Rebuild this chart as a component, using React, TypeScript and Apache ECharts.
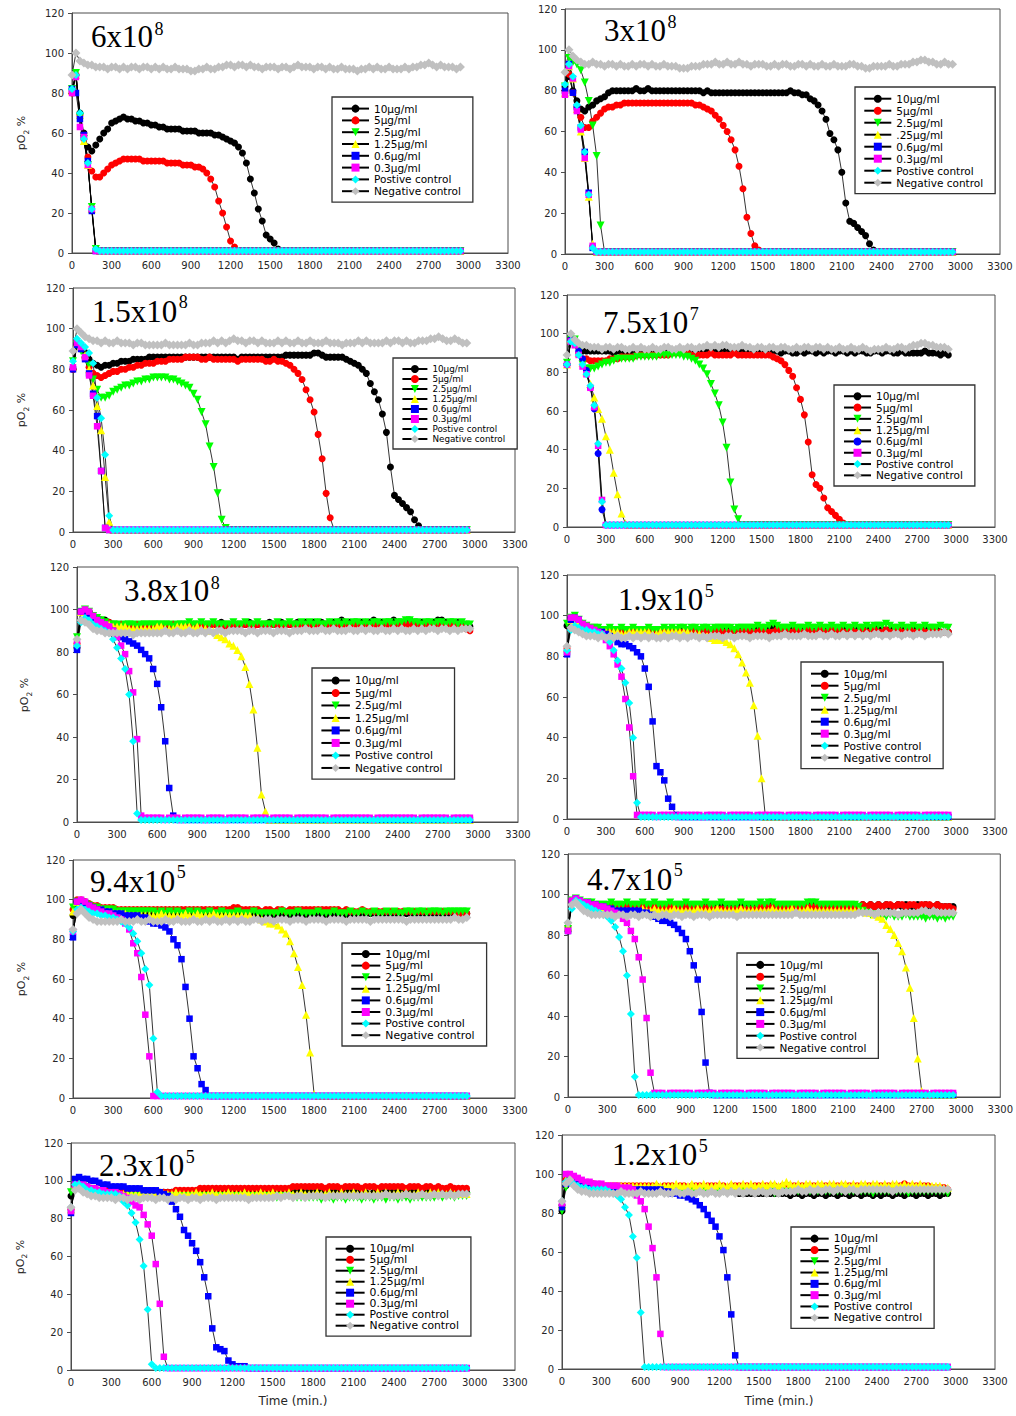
import React, { useEffect, useRef } from "react";
import * as echarts from "echarts";

// Sampling times (min.)
const TIME = [
  0, 30, 60, 90, 120, 150, 180, 210, 240, 270,
  300, 330, 360, 390, 420, 450, 480, 510, 540, 570,
  600, 630, 660, 690, 720, 750, 780, 810, 840, 870,
  900, 930, 960, 990, 1020, 1050, 1080, 1110, 1140, 1170,
  1200, 1230, 1260, 1290, 1320, 1350, 1380, 1410, 1440, 1470,
  1500, 1530, 1560, 1590, 1620, 1650, 1680, 1710, 1740, 1770,
  1800, 1830, 1860, 1890, 1920, 1950, 1980, 2010, 2040, 2070,
  2100, 2130, 2160, 2190, 2220, 2250, 2280, 2310, 2340, 2370,
  2400, 2430, 2460, 2490, 2520, 2550, 2580, 2610, 2640, 2670,
  2700, 2730, 2760, 2790, 2820, 2850, 2880, 2910, 2940,
];

const X_TICKS = { min: 0, max: 3300, step: 300 };
const Y_TICKS = { min: 0, max: 120, step: 20 };

const LABELS = ["10µg/ml", "5µg/ml", "2.5µg/ml", "1.25µg/ml", "0.6µg/ml", "0.3µg/ml", "Postive control", "Negative control"];
const LABELS_B = ["10µg/ml", "5µg/ml", "2.5µg/ml", ".25µg/ml", "0.6µg/ml", "0.3µg/ml", "Postive control", "Negative control"];
const LABELS_D = ["10µg/ml", "5µg/ml", "2.5µg/ml", "1.25µg/ml", "0.6µg/ml ", "0.3µg/ml", "Postive control", "Negative control"];

// ---------- 6x10^8 ----------
const P1_10 = [
  82, 89, 70, 60, 53, 51, 54, 57, 60, 62,
  65, 66, 67, 68, 67, 67, 66, 66, 65, 65,
  64, 64, 63, 63, 62, 62, 62, 62, 61, 61,
  61, 61, 60, 60, 60, 60, 59, 59, 58, 57,
  56, 55, 53, 50, 45, 37, 30, 22, 16, 9,
  7, 5, 2, 1, 1, 1, 1, 1, 1, 1,
  1, 1, 1, 1, 1, 1, 1, 1, 1, 1,
  1, 1, 1, 1, 1, 1, 1, 1, 1, 1,
  1, 1, 1, 1, 1, 1, 1, 1, 1, 1,
  1, 1, 1, 1, 1, 1, 1, 1, 1,
];
const P1_5 = [
  80, 89, 69, 57, 48, 41, 38, 38, 40, 42,
  44, 45, 46, 47, 47, 47, 47, 47, 46, 46,
  46, 46, 46, 46, 45, 45, 45, 45, 44, 44,
  44, 43, 43, 42, 40, 37, 33, 26, 20, 13,
  6, 3, 1, 1, 1, 1, 1, 1, 1, 1,
  1, 1, 1, 1, 1, 1, 1, 1, 1, 1,
  1, 1, 1, 1, 1, 1, 1, 1, 1, 1,
  1, 1, 1, 1, 1, 1, 1, 1, 1, 1,
  1, 1, 1, 1, 1, 1, 1, 1, 1, 1,
  1, 1, 1, 1, 1, 1, 1, 1, 1,
];
const P1_25 = [
  82, 90, 68, 57, 44, 23, 2, 1, 1, 1,
  1, 1, 1, 1, 1, 1, 1, 1, 1, 1,
  1, 1, 1, 1, 1, 1, 1, 1, 1, 1,
  1, 1, 1, 1, 1, 1, 1, 1, 1, 1,
  1, 1, 1, 1, 1, 1, 1, 1, 1, 1,
  1, 1, 1, 1, 1, 1, 1, 1, 1, 1,
  1, 1, 1, 1, 1, 1, 1, 1, 1, 1,
  1, 1, 1, 1, 1, 1, 1, 1, 1, 1,
  1, 1, 1, 1, 1, 1, 1, 1, 1, 1,
  1, 1, 1, 1, 1, 1, 1, 1, 1,
];
const P1_125 = [
  81, 89, 69, 56, 44, 22, 2, 1, 1, 1,
  1, 1, 1, 1, 1, 1, 1, 1, 1, 1,
  1, 1, 1, 1, 1, 1, 1, 1, 1, 1,
  1, 1, 1, 1, 1, 1, 1, 1, 1, 1,
  1, 1, 1, 1, 1, 1, 1, 1, 1, 1,
  1, 1, 1, 1, 1, 1, 1, 1, 1, 1,
  1, 1, 1, 1, 1, 1, 1, 1, 1, 1,
  1, 1, 1, 1, 1, 1, 1, 1, 1, 1,
  1, 1, 1, 1, 1, 1, 1, 1, 1, 1,
  1, 1, 1, 1, 1, 1, 1, 1, 1,
];
const P1_06 = [
  82, 80, 67, 59, 46, 21, 1, 1, 1, 1,
  1, 1, 1, 1, 1, 1, 1, 1, 1, 1,
  1, 1, 1, 1, 1, 1, 1, 1, 1, 1,
  1, 1, 1, 1, 1, 1, 1, 1, 1, 1,
  1, 1, 1, 1, 1, 1, 1, 1, 1, 1,
  1, 1, 1, 1, 1, 1, 1, 1, 1, 1,
  1, 1, 1, 1, 1, 1, 1, 1, 1, 1,
  1, 1, 1, 1, 1, 1, 1, 1, 1, 1,
  1, 1, 1, 1, 1, 1, 1, 1, 1, 1,
  1, 1, 1, 1, 1, 1, 1, 1, 1,
];
const P1_03 = [
  80, 88, 63, 58, 44, 22, 1, 1, 1, 1,
  1, 1, 1, 1, 1, 1, 1, 1, 1, 1,
  1, 1, 1, 1, 1, 1, 1, 1, 1, 1,
  1, 1, 1, 1, 1, 1, 1, 1, 1, 1,
  1, 1, 1, 1, 1, 1, 1, 1, 1, 1,
  1, 1, 1, 1, 1, 1, 1, 1, 1, 1,
  1, 1, 1, 1, 1, 1, 1, 1, 1, 1,
  1, 1, 1, 1, 1, 1, 1, 1, 1, 1,
  1, 1, 1, 1, 1, 1, 1, 1, 1, 1,
  1, 1, 1, 1, 1, 1, 1, 1, 1,
];
const P1_POS = [
  82, 89, 70, 57, 45, 22, 2, 1, 1, 1,
  1, 1, 1, 1, 1, 1, 1, 1, 1, 1,
  1, 1, 1, 1, 1, 1, 1, 1, 1, 1,
  1, 1, 1, 1, 1, 1, 1, 1, 1, 1,
  1, 1, 1, 1, 1, 1, 1, 1, 1, 1,
  1, 1, 1, 1, 1, 1, 1, 1, 1, 1,
  1, 1, 1, 1, 1, 1, 1, 1, 1, 1,
  1, 1, 1, 1, 1, 1, 1, 1, 1, 1,
  1, 1, 1, 1, 1, 1, 1, 1, 1, 1,
  1, 1, 1, 1, 1, 1, 1, 1, 1,
];
const P1_NEG = [
  89, 100, 96, 95, 94, 94, 93, 93, 93, 92,
  93, 93, 92, 93, 92, 93, 93, 92, 93, 93,
  92, 93, 92, 93, 92, 92, 93, 92, 92, 92,
  91, 91, 92, 92, 93, 92, 92, 93, 93, 94,
  94, 93, 94, 94, 93, 94, 93, 93, 92, 93,
  93, 93, 92, 93, 93, 92, 93, 94, 93, 93,
  93, 92, 93, 93, 92, 93, 92, 92, 93, 92,
  92, 92, 91, 92, 92, 93, 92, 93, 92, 92,
  93, 92, 92, 92, 93, 92, 93, 93, 94, 94,
  95, 94, 93, 94, 93, 93, 93, 92, 93,
];

// ---------- 3x10^8 ----------
const P2_10 = [
  82, 87, 80, 75, 71, 70, 72, 73, 75, 76,
  77, 79, 80, 80, 80, 80, 80, 80, 81, 80,
  80, 81, 80, 80, 80, 80, 80, 80, 80, 80,
  80, 80, 80, 80, 80, 79, 80, 79, 79, 79,
  79, 79, 79, 79, 79, 79, 79, 79, 79, 79,
  79, 79, 79, 79, 79, 79, 79, 80, 79, 79,
  78, 78, 76, 75, 73, 70, 66, 59, 56, 51,
  40, 25, 16, 15, 13, 11, 9, 5, 2, 1,
  1, 1, 1, 1, 1, 1, 1, 1, 1, 1,
  1, 1, 1, 1, 1, 1, 1, 1, 1,
];
const P2_5 = [
  80, 88, 79, 72, 67, 62, 62, 65, 67, 69,
  71, 72, 72, 73, 73, 74, 74, 74, 74, 74,
  74, 74, 74, 74, 74, 74, 74, 74, 74, 74,
  74, 74, 74, 73, 73, 72, 71, 70, 68, 66,
  63, 60, 56, 51, 43, 32, 18, 10, 4, 2,
  1, 1, 1, 1, 1, 1, 1, 1, 1, 1,
  1, 1, 1, 1, 1, 1, 1, 1, 1, 1,
  1, 1, 1, 1, 1, 1, 1, 1, 1, 1,
  1, 1, 1, 1, 1, 1, 1, 1, 1, 1,
  1, 1, 1, 1, 1, 1, 1, 1, 1,
];
const P2_25 = [
  82, 96, 94, 93, 90, 84, 75, 63, 48, 14,
  1, 1, 1, 1, 1, 1, 1, 1, 1, 1,
  1, 1, 1, 1, 1, 1, 1, 1, 1, 1,
  1, 1, 1, 1, 1, 1, 1, 1, 1, 1,
  1, 1, 1, 1, 1, 1, 1, 1, 1, 1,
  1, 1, 1, 1, 1, 1, 1, 1, 1, 1,
  1, 1, 1, 1, 1, 1, 1, 1, 1, 1,
  1, 1, 1, 1, 1, 1, 1, 1, 1, 1,
  1, 1, 1, 1, 1, 1, 1, 1, 1, 1,
  1, 1, 1, 1, 1, 1, 1, 1, 1,
];
const P2_125 = [
  79, 92, 86, 71, 60, 47, 28, 5, 1, 1,
  1, 1, 1, 1, 1, 1, 1, 1, 1, 1,
  1, 1, 1, 1, 1, 1, 1, 1, 1, 1,
  1, 1, 1, 1, 1, 1, 1, 1, 1, 1,
  1, 1, 1, 1, 1, 1, 1, 1, 1, 1,
  1, 1, 1, 1, 1, 1, 1, 1, 1, 1,
  1, 1, 1, 1, 1, 1, 1, 1, 1, 1,
  1, 1, 1, 1, 1, 1, 1, 1, 1, 1,
  1, 1, 1, 1, 1, 1, 1, 1, 1, 1,
  1, 1, 1, 1, 1, 1, 1, 1, 1,
];
const P2_06 = [
  80, 93, 79, 72, 62, 50, 30, 3, 1, 1,
  1, 1, 1, 1, 1, 1, 1, 1, 1, 1,
  1, 1, 1, 1, 1, 1, 1, 1, 1, 1,
  1, 1, 1, 1, 1, 1, 1, 1, 1, 1,
  1, 1, 1, 1, 1, 1, 1, 1, 1, 1,
  1, 1, 1, 1, 1, 1, 1, 1, 1, 1,
  1, 1, 1, 1, 1, 1, 1, 1, 1, 1,
  1, 1, 1, 1, 1, 1, 1, 1, 1, 1,
  1, 1, 1, 1, 1, 1, 1, 1, 1, 1,
  1, 1, 1, 1, 1, 1, 1, 1, 1,
];
const P2_03 = [
  78, 92, 86, 70, 61, 47, 29, 4, 1, 1,
  1, 1, 1, 1, 1, 1, 1, 1, 1, 1,
  1, 1, 1, 1, 1, 1, 1, 1, 1, 1,
  1, 1, 1, 1, 1, 1, 1, 1, 1, 1,
  1, 1, 1, 1, 1, 1, 1, 1, 1, 1,
  1, 1, 1, 1, 1, 1, 1, 1, 1, 1,
  1, 1, 1, 1, 1, 1, 1, 1, 1, 1,
  1, 1, 1, 1, 1, 1, 1, 1, 1, 1,
  1, 1, 1, 1, 1, 1, 1, 1, 1, 1,
  1, 1, 1, 1, 1, 1, 1, 1, 1,
];
const P2_POS = [
  83, 93, 87, 73, 63, 50, 29, 3, 1, 1,
  1, 1, 1, 1, 1, 1, 1, 1, 1, 1,
  1, 1, 1, 1, 1, 1, 1, 1, 1, 1,
  1, 1, 1, 1, 1, 1, 1, 1, 1, 1,
  1, 1, 1, 1, 1, 1, 1, 1, 1, 1,
  1, 1, 1, 1, 1, 1, 1, 1, 1, 1,
  1, 1, 1, 1, 1, 1, 1, 1, 1, 1,
  1, 1, 1, 1, 1, 1, 1, 1, 1, 1,
  1, 1, 1, 1, 1, 1, 1, 1, 1, 1,
  1, 1, 1, 1, 1, 1, 1, 1, 1,
];
const P2_NEG = [
  89, 100, 97, 95, 94, 93, 93, 94, 93, 93,
  92, 93, 93, 92, 93, 92, 92, 93, 92, 93,
  93, 92, 93, 92, 92, 93, 92, 92, 92, 91,
  91, 91, 92, 92, 92, 93, 93, 93, 94, 93,
  93, 94, 93, 93, 94, 93, 93, 92, 93, 93,
  93, 92, 92, 93, 92, 93, 93, 92, 92, 93,
  93, 92, 93, 92, 92, 93, 92, 92, 93, 92,
  92, 92, 93, 93, 92, 92, 91, 91, 92, 92,
  92, 92, 93, 92, 92, 93, 93, 93, 94, 94,
  95, 95, 94, 94, 93, 93, 94, 93, 93,
];

// ---------- 1.5x10^8 ----------
const P3_10 = [
  80, 93, 91, 88, 85, 83, 82, 81, 82, 82,
  83, 83, 84, 84, 84, 85, 85, 85, 85, 86,
  86, 86, 86, 86, 86, 86, 86, 86, 86, 86,
  86, 86, 86, 86, 86, 86, 86, 86, 86, 86,
  86, 85, 86, 86, 86, 86, 86, 86, 86, 86,
  86, 86, 86, 87, 87, 87, 87, 87, 87, 87,
  88, 88, 87, 86, 86, 86, 86, 86, 85, 84,
  83, 82, 80, 78, 73, 69, 65, 58, 49, 32,
  18, 16, 14, 12, 10, 6, 3, 1, 1, 1,
  1, 1, 1, 1, 1, 1, 1, 1, 1,
];
const P3_5 = [
  80, 93, 90, 86, 81, 78, 77, 76, 77, 78,
  79, 79, 80, 80, 81, 81, 82, 82, 83, 83,
  83, 84, 84, 84, 85, 85, 85, 85, 86, 86,
  86, 86, 85, 85, 86, 85, 85, 85, 85, 85,
  85, 84, 85, 85, 85, 85, 85, 85, 84, 84,
  85, 84, 84, 83, 82, 80, 78, 75, 70, 65,
  59, 48, 36, 19, 7, 1, 1, 1, 1, 1,
  1, 1, 1, 1, 1, 1, 1, 1, 1, 1,
  1, 1, 1, 1, 1, 1, 1, 1, 1, 1,
  1, 1, 1, 1, 1, 1, 1, 1, 1,
];
const P3_25 = [
  84, 92, 89, 86, 82, 75, 70, 66, 66, 67,
  69, 70, 71, 72, 72, 73, 74, 74, 75, 75,
  76, 76, 76, 76, 75, 75, 74, 73, 72, 71,
  68, 65, 59, 53, 42, 32, 19, 6, 2, 1,
  1, 1, 1, 1, 1, 1, 1, 1, 1, 1,
  1, 1, 1, 1, 1, 1, 1, 1, 1, 1,
  1, 1, 1, 1, 1, 1, 1, 1, 1, 1,
  1, 1, 1, 1, 1, 1, 1, 1, 1, 1,
  1, 1, 1, 1, 1, 1, 1, 1, 1, 1,
  1, 1, 1, 1, 1, 1, 1, 1, 1,
];
const P3_125 = [
  81, 93, 91, 87, 80, 72, 62, 50, 27, 5,
  1, 1, 1, 1, 1, 1, 1, 1, 1, 1,
  1, 1, 1, 1, 1, 1, 1, 1, 1, 1,
  1, 1, 1, 1, 1, 1, 1, 1, 1, 1,
  1, 1, 1, 1, 1, 1, 1, 1, 1, 1,
  1, 1, 1, 1, 1, 1, 1, 1, 1, 1,
  1, 1, 1, 1, 1, 1, 1, 1, 1, 1,
  1, 1, 1, 1, 1, 1, 1, 1, 1, 1,
  1, 1, 1, 1, 1, 1, 1, 1, 1, 1,
  1, 1, 1, 1, 1, 1, 1, 1, 1,
];
const P3_06 = [
  80, 92, 90, 85, 78, 68, 57, 30, 2, 1,
  1, 1, 1, 1, 1, 1, 1, 1, 1, 1,
  1, 1, 1, 1, 1, 1, 1, 1, 1, 1,
  1, 1, 1, 1, 1, 1, 1, 1, 1, 1,
  1, 1, 1, 1, 1, 1, 1, 1, 1, 1,
  1, 1, 1, 1, 1, 1, 1, 1, 1, 1,
  1, 1, 1, 1, 1, 1, 1, 1, 1, 1,
  1, 1, 1, 1, 1, 1, 1, 1, 1, 1,
  1, 1, 1, 1, 1, 1, 1, 1, 1, 1,
  1, 1, 1, 1, 1, 1, 1, 1, 1,
];
const P3_03 = [
  81, 93, 91, 86, 77, 67, 52, 30, 2, 1,
  1, 1, 1, 1, 1, 1, 1, 1, 1, 1,
  1, 1, 1, 1, 1, 1, 1, 1, 1, 1,
  1, 1, 1, 1, 1, 1, 1, 1, 1, 1,
  1, 1, 1, 1, 1, 1, 1, 1, 1, 1,
  1, 1, 1, 1, 1, 1, 1, 1, 1, 1,
  1, 1, 1, 1, 1, 1, 1, 1, 1, 1,
  1, 1, 1, 1, 1, 1, 1, 1, 1, 1,
  1, 1, 1, 1, 1, 1, 1, 1, 1, 1,
  1, 1, 1, 1, 1, 1, 1, 1, 1,
];
const P3_POS = [
  84, 95, 93, 91, 88, 83, 66, 56, 38, 8,
  1, 1, 1, 1, 1, 1, 1, 1, 1, 1,
  1, 1, 1, 1, 1, 1, 1, 1, 1, 1,
  1, 1, 1, 1, 1, 1, 1, 1, 1, 1,
  1, 1, 1, 1, 1, 1, 1, 1, 1, 1,
  1, 1, 1, 1, 1, 1, 1, 1, 1, 1,
  1, 1, 1, 1, 1, 1, 1, 1, 1, 1,
  1, 1, 1, 1, 1, 1, 1, 1, 1, 1,
  1, 1, 1, 1, 1, 1, 1, 1, 1, 1,
  1, 1, 1, 1, 1, 1, 1, 1, 1,
];
const P3_NEG = [
  89, 100, 98, 96, 95, 94, 94, 93, 94, 93,
  93, 94, 93, 93, 93, 92, 93, 93, 92, 92,
  92, 92, 92, 93, 92, 92, 92, 92, 92, 93,
  92, 92, 93, 93, 93, 94, 93, 94, 93, 94,
  95, 94, 94, 93, 94, 94, 93, 94, 93, 93,
  93, 94, 93, 94, 93, 93, 94, 93, 93, 94,
  93, 93, 93, 94, 93, 93, 93, 92, 93, 93,
  93, 94, 93, 94, 93, 93, 93, 93, 94, 93,
  94, 94, 93, 94, 93, 93, 94, 94, 94, 95,
  95, 96, 95, 94, 94, 95, 94, 93, 93,
];

// ---------- 7.5x10^7 ----------
const P4_10 = [
  84, 97, 97, 93, 91, 91, 91, 91, 91, 91,
  91, 91, 90, 91, 91, 90, 91, 91, 90, 91,
  91, 90, 91, 91, 90, 91, 91, 90, 91, 91,
  91, 91, 91, 90, 91, 91, 91, 91, 91, 91,
  91, 91, 91, 91, 90, 91, 91, 90, 91, 91,
  90, 91, 90, 91, 91, 90, 91, 91, 90, 90,
  91, 90, 91, 91, 90, 91, 90, 91, 91, 90,
  91, 91, 90, 91, 90, 91, 91, 90, 90, 91,
  91, 90, 91, 91, 90, 90, 91, 90, 90, 90,
  90, 90, 91, 90, 90, 90, 89, 90, 89,
];
const P4_5 = [
  84, 97, 95, 90, 87, 87, 86, 86, 86, 86,
  86, 87, 87, 87, 88, 88, 88, 88, 89, 89,
  89, 89, 89, 89, 89, 89, 89, 90, 90, 90,
  90, 90, 89, 89, 89, 89, 89, 90, 89, 89,
  89, 89, 89, 90, 89, 89, 89, 89, 89, 89,
  89, 89, 89, 88, 87, 86, 84, 81, 78, 72,
  66, 58, 44, 27, 22, 20, 15, 10, 8, 6,
  4, 2, 1, 1, 1, 1, 1, 1, 1, 1,
  1, 1, 1, 1, 1, 1, 1, 1, 1, 1,
  1, 1, 1, 1, 1, 1, 1, 1, 1,
];
const P4_25 = [
  85, 97, 97, 91, 84, 82, 82, 82, 83, 84,
  85, 85, 86, 87, 87, 87, 87, 87, 88, 88,
  88, 88, 88, 88, 89, 89, 89, 89, 89, 89,
  88, 88, 87, 86, 84, 82, 79, 74, 69, 63,
  54, 41, 23, 9, 4, 1, 1, 1, 1, 1,
  1, 1, 1, 1, 1, 1, 1, 1, 1, 1,
  1, 1, 1, 1, 1, 1, 1, 1, 1, 1,
  1, 1, 1, 1, 1, 1, 1, 1, 1, 1,
  1, 1, 1, 1, 1, 1, 1, 1, 1, 1,
  1, 1, 1, 1, 1, 1, 1, 1, 1,
];
const P4_125 = [
  84, 97, 96, 90, 85, 80, 74, 67, 61, 56,
  47, 40, 28, 17, 7, 2, 1, 1, 1, 1,
  1, 1, 1, 1, 1, 1, 1, 1, 1, 1,
  1, 1, 1, 1, 1, 1, 1, 1, 1, 1,
  1, 1, 1, 1, 1, 1, 1, 1, 1, 1,
  1, 1, 1, 1, 1, 1, 1, 1, 1, 1,
  1, 1, 1, 1, 1, 1, 1, 1, 1, 1,
  1, 1, 1, 1, 1, 1, 1, 1, 1, 1,
  1, 1, 1, 1, 1, 1, 1, 1, 1, 1,
  1, 1, 1, 1, 1, 1, 1, 1, 1,
];
const P4_06 = [
  84, 97, 95, 91, 87, 81, 72, 61, 38, 9,
  1, 1, 1, 1, 1, 1, 1, 1, 1, 1,
  1, 1, 1, 1, 1, 1, 1, 1, 1, 1,
  1, 1, 1, 1, 1, 1, 1, 1, 1, 1,
  1, 1, 1, 1, 1, 1, 1, 1, 1, 1,
  1, 1, 1, 1, 1, 1, 1, 1, 1, 1,
  1, 1, 1, 1, 1, 1, 1, 1, 1, 1,
  1, 1, 1, 1, 1, 1, 1, 1, 1, 1,
  1, 1, 1, 1, 1, 1, 1, 1, 1, 1,
  1, 1, 1, 1, 1, 1, 1, 1, 1,
];
const P4_03 = [
  84, 96, 94, 89, 83, 79, 72, 62, 42, 14,
  1, 1, 1, 1, 1, 1, 1, 1, 1, 1,
  1, 1, 1, 1, 1, 1, 1, 1, 1, 1,
  1, 1, 1, 1, 1, 1, 1, 1, 1, 1,
  1, 1, 1, 1, 1, 1, 1, 1, 1, 1,
  1, 1, 1, 1, 1, 1, 1, 1, 1, 1,
  1, 1, 1, 1, 1, 1, 1, 1, 1, 1,
  1, 1, 1, 1, 1, 1, 1, 1, 1, 1,
  1, 1, 1, 1, 1, 1, 1, 1, 1, 1,
  1, 1, 1, 1, 1, 1, 1, 1, 1,
];
const P4_POS = [
  84, 96, 95, 89, 84, 79, 73, 63, 43, 13,
  1, 1, 1, 1, 1, 1, 1, 1, 1, 1,
  1, 1, 1, 1, 1, 1, 1, 1, 1, 1,
  1, 1, 1, 1, 1, 1, 1, 1, 1, 1,
  1, 1, 1, 1, 1, 1, 1, 1, 1, 1,
  1, 1, 1, 1, 1, 1, 1, 1, 1, 1,
  1, 1, 1, 1, 1, 1, 1, 1, 1, 1,
  1, 1, 1, 1, 1, 1, 1, 1, 1, 1,
  1, 1, 1, 1, 1, 1, 1, 1, 1, 1,
  1, 1, 1, 1, 1, 1, 1, 1, 1,
];
const P4_NEG = [
  89, 100, 97, 95, 94, 94, 93, 93, 93, 92,
  93, 93, 92, 93, 93, 92, 92, 93, 92, 93,
  92, 92, 93, 92, 92, 93, 93, 92, 92, 93,
  92, 93, 93, 92, 93, 93, 94, 93, 94, 93,
  94, 94, 93, 93, 93, 94, 93, 93, 92, 93,
  93, 92, 93, 93, 92, 93, 93, 92, 92, 93,
  92, 93, 93, 92, 93, 93, 92, 93, 92, 92,
  93, 92, 92, 93, 92, 92, 93, 92, 91, 92,
  92, 92, 93, 92, 92, 93, 93, 92, 93, 94,
  94, 95, 95, 94, 94, 93, 93, 93, 92,
];

// ---------- 3.8x10^8 ----------
const P5_10 = [
  82, 99, 100, 99, 97, 96, 95, 95, 94, 93,
  93, 93, 93, 93, 93, 92, 93, 93, 93, 92,
  93, 93, 92, 93, 93, 93, 93, 93, 93, 93,
  93, 93, 93, 93, 93, 93, 94, 93, 93, 93,
  93, 93, 93, 94, 93, 93, 93, 93, 94, 93,
  93, 94, 93, 93, 93, 94, 93, 94, 93, 94,
  94, 94, 93, 94, 94, 94, 95, 94, 94, 94,
  94, 94, 94, 94, 95, 94, 94, 94, 94, 95,
  94, 94, 94, 95, 94, 94, 94, 94, 94, 94,
  95, 95, 94, 94, 94, 94, 93, 93, 92,
];
const P5_5 = [
  84, 99, 100, 99, 97, 96, 95, 94, 94, 93,
  93, 93, 93, 93, 92, 93, 93, 92, 93, 93,
  93, 92, 93, 93, 93, 92, 93, 93, 93, 93,
  93, 93, 92, 93, 93, 93, 93, 92, 93, 93,
  93, 93, 93, 93, 92, 93, 93, 93, 93, 93,
  93, 92, 93, 93, 93, 93, 93, 93, 92, 93,
  93, 93, 93, 93, 93, 92, 93, 93, 93, 93,
  93, 93, 92, 93, 93, 93, 93, 93, 93, 92,
  93, 93, 93, 93, 92, 93, 93, 93, 93, 93,
  93, 92, 93, 93, 93, 92, 92, 91, 90,
];
const P5_25 = [
  87, 99, 100, 99, 97, 96, 95, 94, 93, 93,
  93, 92, 93, 93, 93, 92, 93, 93, 93, 93,
  93, 93, 93, 93, 92, 93, 93, 93, 94, 93,
  93, 94, 93, 93, 94, 93, 93, 93, 93, 94,
  93, 93, 94, 93, 93, 94, 93, 93, 93, 93,
  94, 93, 93, 94, 93, 93, 94, 93, 94, 93,
  94, 93, 93, 94, 93, 94, 93, 94, 93, 94,
  94, 93, 94, 93, 94, 94, 93, 94, 94, 93,
  94, 94, 95, 95, 94, 94, 93, 94, 94, 93,
  94, 94, 93, 94, 94, 93, 94, 93, 93,
];
const P5_125 = [
  85, 99, 99, 98, 96, 95, 94, 93, 93, 92,
  92, 92, 92, 91, 91, 91, 91, 91, 91, 91,
  92, 92, 91, 91, 91, 92, 92, 92, 92, 91,
  92, 91, 91, 90, 90, 88, 87, 86, 84, 83,
  81, 78, 73, 65, 53, 35, 13, 5, 1, 1,
  1, 1, 1, 1, 1, 1, 1, 1, 1, 1,
  1, 1, 1, 1, 1, 1, 1, 1, 1, 1,
  1, 1, 1, 1, 1, 1, 1, 1, 1, 1,
  1, 1, 1, 1, 1, 1, 1, 1, 1, 1,
  1, 1, 1, 1, 1, 1, 1, 1, 1,
];
const P5_06 = [
  81, 99, 99, 98, 96, 95, 94, 92, 91, 90,
  88, 87, 86, 85, 84, 83, 81, 79, 77, 72,
  65, 54, 38, 16, 3, 1, 1, 1, 1, 1,
  1, 1, 1, 1, 1, 1, 1, 1, 1, 1,
  1, 1, 1, 1, 1, 1, 1, 1, 1, 1,
  1, 1, 1, 1, 1, 1, 1, 1, 1, 1,
  1, 1, 1, 1, 1, 1, 1, 1, 1, 1,
  1, 1, 1, 1, 1, 1, 1, 1, 1, 1,
  1, 1, 1, 1, 1, 1, 1, 1, 1, 1,
  1, 1, 1, 1, 1, 1, 1, 1, 1,
];
const P5_03 = [
  84, 99, 100, 99, 97, 95, 94, 93, 92, 90,
  87, 83, 79, 71, 61, 39, 3, 2, 2, 2,
  2, 2, 1, 2, 2, 2, 1, 2, 2, 2,
  2, 2, 1, 2, 2, 2, 2, 1, 2, 2,
  2, 2, 2, 1, 2, 2, 2, 2, 1, 2,
  2, 2, 2, 2, 1, 2, 2, 2, 2, 2,
  2, 2, 2, 1, 2, 2, 2, 2, 2, 2,
  2, 2, 2, 2, 1, 2, 2, 2, 2, 2,
  2, 2, 2, 2, 2, 1, 2, 2, 2, 2,
  2, 2, 2, 1, 2, 2, 2, 2, 2,
];
const P5_POS = [
  83, 94, 96, 95, 93, 92, 91, 90, 89, 86,
  82, 77, 72, 60, 38, 4, 1, 1, 1, 1,
  1, 1, 1, 1, 1, 1, 1, 1, 1, 1,
  1, 1, 1, 1, 1, 1, 1, 1, 1, 1,
  1, 1, 1, 1, 1, 1, 1, 1, 1, 1,
  1, 1, 1, 1, 1, 1, 1, 1, 1, 1,
  1, 1, 1, 1, 1, 1, 1, 1, 1, 1,
  1, 1, 1, 1, 1, 1, 1, 1, 1, 1,
  1, 1, 1, 1, 1, 1, 1, 1, 1, 1,
  1, 1, 1, 1, 1, 1, 1, 1, 1,
];
const P5_NEG = [
  86, 95, 94, 93, 91, 90, 90, 89, 89, 89,
  89, 89, 89, 89, 88, 89, 89, 89, 89, 89,
  89, 89, 90, 89, 89, 90, 89, 89, 90, 89,
  89, 90, 89, 90, 89, 90, 90, 89, 90, 90,
  90, 90, 89, 90, 90, 89, 90, 90, 90, 89,
  90, 90, 90, 89, 90, 90, 90, 91, 90, 90,
  90, 91, 90, 90, 91, 90, 90, 90, 91, 90,
  90, 91, 90, 91, 90, 90, 91, 90, 90, 91,
  90, 91, 90, 90, 91, 90, 91, 90, 91, 91,
  90, 91, 91, 90, 91, 90, 91, 91, 91,
];

// ---------- 1.9x10^5 ----------
const P6_10 = [
  95, 99, 99, 98, 96, 95, 94, 93, 93, 93,
  93, 93, 93, 93, 92, 93, 93, 93, 93, 93,
  93, 93, 93, 92, 93, 93, 93, 93, 93, 93,
  93, 93, 93, 93, 93, 93, 94, 93, 93, 93,
  93, 93, 93, 93, 93, 94, 93, 93, 93, 93,
  93, 93, 93, 94, 93, 93, 93, 93, 93, 94,
  93, 93, 93, 93, 94, 93, 93, 93, 93, 93,
  93, 94, 93, 93, 93, 93, 93, 93, 93, 94,
  93, 93, 93, 93, 93, 94, 94, 93, 93, 93,
  93, 93, 93, 93, 93, 93, 92, 92, 92,
];
const P6_5 = [
  84, 98, 99, 98, 96, 95, 94, 93, 93, 92,
  92, 93, 92, 92, 93, 92, 92, 93, 92, 92,
  92, 93, 92, 92, 92, 93, 92, 92, 93, 92,
  92, 92, 93, 92, 92, 92, 93, 92, 92, 93,
  92, 92, 92, 93, 92, 92, 93, 92, 92, 92,
  93, 92, 92, 92, 93, 92, 93, 92, 92, 93,
  92, 92, 93, 92, 92, 93, 92, 92, 93, 92,
  93, 92, 92, 93, 92, 92, 93, 92, 92, 93,
  92, 92, 93, 92, 92, 93, 92, 92, 93, 92,
  92, 93, 92, 92, 93, 92, 92, 92, 92,
];
const P6_25 = [
  96, 99, 100, 98, 96, 95, 94, 94, 94, 93,
  93, 94, 93, 93, 94, 93, 93, 94, 93, 93,
  93, 94, 93, 93, 93, 94, 93, 94, 93, 94,
  94, 93, 94, 94, 93, 94, 94, 93, 94, 94,
  94, 94, 94, 93, 94, 94, 94, 94, 94, 95,
  94, 94, 95, 96, 95, 94, 94, 94, 95, 94,
  94, 94, 95, 94, 94, 95, 94, 94, 95, 94,
  94, 95, 94, 94, 95, 94, 94, 95, 94, 95,
  95, 95, 96, 95, 94, 94, 95, 94, 94, 95,
  94, 94, 95, 94, 94, 94, 95, 94, 94,
];
const P6_125 = [
  84, 98, 99, 97, 95, 94, 93, 92, 92, 92,
  92, 92, 92, 92, 91, 91, 92, 92, 92, 92,
  92, 92, 91, 91, 92, 92, 92, 92, 92, 92,
  92, 92, 91, 91, 91, 90, 90, 89, 88, 88,
  88, 87, 86, 84, 81, 77, 72, 67, 56, 41,
  20, 1, 1, 1, 1, 1, 1, 1, 1, 1,
  1, 1, 1, 1, 1, 1, 1, 1, 1, 1,
  1, 1, 1, 1, 1, 1, 1, 1, 1, 1,
  1, 1, 1, 1, 1, 1, 1, 1, 1, 1,
  1, 1, 1, 1, 1, 1, 1, 1, 1,
];
const P6_06 = [
  81, 98, 99, 98, 95, 94, 93, 92, 92, 92,
  91, 90, 89, 87, 86, 86, 85, 84, 82, 80,
  74, 65, 48, 26, 23, 19, 10, 6, 2, 1,
  1, 1, 1, 1, 1, 1, 1, 1, 1, 1,
  1, 1, 1, 1, 1, 1, 1, 1, 1, 1,
  1, 1, 1, 1, 1, 1, 1, 1, 1, 1,
  1, 1, 1, 1, 1, 1, 1, 1, 1, 1,
  1, 1, 1, 1, 1, 1, 1, 1, 1, 1,
  1, 1, 1, 1, 1, 1, 1, 1, 1, 1,
  1, 1, 1, 1, 1, 1, 1, 1, 1,
];
const P6_03 = [
  82, 99, 99, 98, 96, 95, 94, 93, 92, 91,
  88, 85, 81, 76, 70, 59, 45, 21, 2, 2,
  2, 2, 2, 1, 2, 2, 2, 2, 1, 2,
  2, 2, 2, 2, 2, 1, 2, 2, 2, 2,
  2, 1, 2, 2, 2, 2, 2, 2, 1, 2,
  2, 2, 2, 2, 2, 2, 1, 2, 2, 2,
  2, 2, 2, 1, 2, 2, 2, 2, 2, 2,
  1, 2, 2, 2, 2, 2, 2, 1, 2, 2,
  2, 2, 2, 2, 1, 2, 2, 2, 2, 2,
  2, 1, 2, 2, 2, 2, 2, 2, 2,
];
const P6_POS = [
  83, 93, 95, 94, 93, 93, 92, 92, 91, 91,
  89, 87, 83, 78, 74, 67, 57, 40, 8, 1,
  1, 1, 1, 1, 1, 1, 1, 1, 1, 1,
  1, 1, 1, 1, 1, 1, 1, 1, 1, 1,
  1, 1, 1, 1, 1, 1, 1, 1, 1, 1,
  1, 1, 1, 1, 1, 1, 1, 1, 1, 1,
  1, 1, 1, 1, 1, 1, 1, 1, 1, 1,
  1, 1, 1, 1, 1, 1, 1, 1, 1, 1,
  1, 1, 1, 1, 1, 1, 1, 1, 1, 1,
  1, 1, 1, 1, 1, 1, 1, 1, 1,
];
const P6_NEG = [
  85, 94, 93, 92, 91, 90, 90, 90, 89, 90,
  89, 90, 89, 90, 89, 89, 90, 89, 90, 89,
  90, 89, 90, 89, 89, 90, 89, 90, 90, 89,
  90, 89, 90, 90, 89, 90, 89, 90, 90, 90,
  89, 90, 90, 89, 90, 90, 90, 89, 90, 90,
  90, 90, 89, 90, 90, 90, 91, 90, 90, 90,
  90, 91, 90, 90, 90, 91, 90, 90, 91, 90,
  90, 91, 90, 91, 90, 91, 90, 91, 90, 91,
  91, 90, 91, 90, 91, 91, 90, 91, 91, 90,
  91, 91, 90, 91, 91, 91, 91, 92, 91,
];

// ---------- 9.4x10^5 ----------
const P7_10 = [
  92, 99, 99, 98, 97, 96, 95, 95, 94, 94,
  93, 93, 93, 93, 93, 93, 93, 92, 93, 93,
  93, 92, 93, 93, 93, 93, 92, 93, 93, 93,
  93, 93, 93, 93, 93, 93, 93, 93, 93, 93,
  93, 93, 93, 93, 93, 93, 92, 93, 92, 92,
  92, 92, 92, 92, 92, 92, 92, 92, 92, 92,
  92, 92, 92, 92, 92, 92, 92, 92, 92, 92,
  92, 93, 93, 93, 93, 93, 93, 93, 93, 93,
  93, 93, 93, 93, 93, 93, 93, 93, 93, 93,
  93, 93, 93, 93, 93, 94, 93, 93, 93,
];
const P7_5 = [
  95, 100, 100, 99, 98, 97, 97, 96, 96, 96,
  96, 95, 95, 95, 95, 95, 95, 95, 95, 95,
  95, 95, 95, 95, 95, 95, 95, 95, 95, 95,
  95, 95, 95, 95, 95, 95, 95, 95, 95, 95,
  96, 96, 95, 95, 95, 95, 95, 94, 95, 95,
  94, 95, 95, 94, 95, 95, 95, 95, 95, 95,
  95, 95, 95, 95, 95, 95, 95, 94, 95, 94,
  94, 94, 95, 94, 94, 94, 94, 94, 94, 94,
  94, 94, 94, 94, 94, 94, 94, 94, 94, 94,
  94, 94, 94, 94, 94, 94, 93, 93, 93,
];
const P7_25 = [
  96, 99, 99, 98, 97, 96, 96, 95, 95, 95,
  95, 94, 94, 94, 94, 94, 94, 94, 94, 94,
  94, 93, 94, 93, 94, 93, 94, 93, 93, 94,
  93, 94, 93, 93, 94, 93, 93, 94, 93, 93,
  93, 94, 93, 93, 93, 94, 93, 93, 93, 93,
  93, 93, 94, 93, 93, 93, 94, 93, 93, 93,
  93, 94, 93, 93, 93, 94, 93, 93, 93, 94,
  93, 93, 94, 93, 93, 94, 93, 93, 94, 93,
  94, 93, 93, 94, 94, 93, 94, 94, 93, 94,
  94, 94, 93, 94, 94, 94, 94, 94, 94,
];
const P7_125 = [
  94, 99, 99, 98, 97, 96, 95, 95, 94, 94,
  93, 93, 93, 93, 92, 92, 92, 92, 92, 92,
  92, 92, 93, 92, 92, 92, 92, 92, 93, 92,
  92, 93, 92, 92, 92, 93, 92, 92, 92, 92,
  92, 92, 92, 92, 92, 91, 91, 90, 89, 88,
  88, 87, 85, 83, 79, 73, 66, 57, 42, 23,
  2, 1, 1, 1, 1, 1, 1, 1, 1, 1,
  1, 1, 1, 1, 1, 1, 1, 1, 1, 1,
  1, 1, 1, 1, 1, 1, 1, 1, 1, 1,
  1, 1, 1, 1, 1, 1, 1, 1, 1,
];
const P7_06 = [
  81, 99, 99, 98, 97, 96, 95, 95, 94, 94,
  93, 93, 93, 92, 92, 92, 92, 91, 91, 89,
  88, 88, 87, 86, 84, 80, 77, 70, 56, 40,
  21, 15, 7, 4, 1, 1, 1, 1, 1, 1,
  1, 1, 1, 1, 1, 1, 1, 1, 1, 1,
  1, 1, 1, 1, 1, 1, 1, 1, 1, 1,
  1, 1, 1, 1, 1, 1, 1, 1, 1, 1,
  1, 1, 1, 1, 1, 1, 1, 1, 1, 1,
  1, 1, 1, 1, 1, 1, 1, 1, 1, 1,
  1, 1, 1, 1, 1, 1, 1, 1, 1,
];
const P7_03 = [
  84, 99, 100, 99, 97, 96, 95, 94, 93, 93,
  92, 91, 90, 88, 85, 78, 73, 61, 42, 21,
  1, 1, 1, 1, 1, 1, 1, 1, 1, 1,
  1, 1, 1, 1, 1, 1, 1, 1, 1, 1,
  1, 1, 1, 1, 1, 1, 1, 1, 1, 1,
  1, 1, 1, 1, 1, 1, 1, 1, 1, 1,
  1, 1, 1, 1, 1, 1, 1, 1, 1, 1,
  1, 1, 1, 1, 1, 1, 1, 1, 1, 1,
  1, 1, 1, 1, 1, 1, 1, 1, 1, 1,
  1, 1, 1, 1, 1, 1, 1, 1, 1,
];
const P7_POS = [
  84, 95, 96, 95, 94, 93, 93, 92, 92, 91,
  91, 90, 89, 88, 86, 83, 79, 73, 65, 57,
  30, 3, 1, 1, 1, 1, 1, 1, 1, 1,
  1, 1, 1, 1, 1, 1, 1, 1, 1, 1,
  1, 1, 1, 1, 1, 1, 1, 1, 1, 1,
  1, 1, 1, 1, 1, 1, 1, 1, 1, 1,
  1, 1, 1, 1, 1, 1, 1, 1, 1, 1,
  1, 1, 1, 1, 1, 1, 1, 1, 1, 1,
  1, 1, 1, 1, 1, 1, 1, 1, 1, 1,
  1, 1, 1, 1, 1, 1, 1, 1, 1,
];
const P7_NEG = [
  85, 93, 95, 93, 91, 90, 89, 89, 89, 89,
  89, 89, 90, 89, 89, 89, 90, 89, 89, 90,
  89, 89, 89, 90, 89, 89, 90, 89, 89, 89,
  90, 89, 89, 90, 89, 90, 89, 89, 90, 89,
  90, 89, 90, 89, 89, 90, 90, 89, 90, 90,
  89, 90, 90, 90, 89, 90, 90, 90, 89, 90,
  90, 90, 90, 89, 90, 90, 90, 90, 89, 90,
  90, 90, 90, 90, 89, 90, 90, 90, 90, 90,
  90, 90, 90, 89, 90, 90, 90, 90, 90, 90,
  90, 90, 90, 90, 90, 91, 90, 90, 91,
];

// ---------- 4.7x10^5 ----------
const P8_10 = [
  82, 96, 98, 97, 96, 96, 95, 95, 95, 95,
  95, 95, 95, 94, 95, 95, 95, 95, 94, 95,
  95, 95, 95, 95, 95, 94, 95, 95, 95, 95,
  95, 95, 94, 95, 95, 95, 95, 95, 95, 94,
  95, 95, 95, 95, 95, 95, 94, 95, 95, 95,
  95, 95, 95, 95, 94, 95, 95, 95, 95, 95,
  95, 95, 94, 95, 95, 95, 95, 95, 95, 95,
  95, 95, 95, 95, 94, 95, 94, 95, 94, 95,
  94, 95, 94, 94, 95, 94, 95, 94, 94, 95,
  94, 95, 94, 94, 95, 94, 94, 94, 94,
];
const P8_5 = [
  84, 97, 98, 97, 96, 96, 95, 95, 95, 94,
  94, 94, 94, 94, 94, 94, 94, 94, 94, 94,
  94, 94, 94, 94, 94, 94, 94, 94, 94, 94,
  94, 94, 94, 94, 94, 93, 94, 93, 93, 93,
  93, 93, 93, 93, 93, 93, 93, 93, 93, 94,
  94, 94, 94, 94, 94, 94, 94, 94, 94, 94,
  94, 94, 94, 94, 94, 94, 94, 94, 94, 94,
  94, 94, 94, 94, 94, 95, 94, 95, 94, 95,
  94, 95, 95, 94, 95, 95, 94, 95, 95, 94,
  95, 95, 95, 94, 95, 94, 94, 94, 93,
];
const P8_25 = [
  83, 97, 98, 97, 96, 96, 96, 95, 95, 95,
  95, 96, 95, 95, 95, 96, 95, 95, 95, 96,
  95, 95, 96, 95, 95, 95, 96, 95, 95, 95,
  96, 95, 95, 95, 95, 96, 95, 95, 95, 96,
  95, 95, 95, 95, 96, 95, 95, 95, 95, 96,
  95, 96, 96, 95, 95, 95, 95, 95, 95, 95,
  95, 96, 96, 96, 95, 95, 95, 95, 95, 95,
  95, 95, 95, 95, 94, 92, 91, 90, 90, 89,
  89, 89, 90, 89, 89, 89, 90, 89, 89, 89,
  89, 88, 89, 89, 88, 89, 88, 89, 89,
];
const P8_125 = [
  84, 97, 98, 97, 96, 95, 94, 94, 93, 93,
  92, 92, 92, 92, 92, 92, 92, 92, 92, 93,
  92, 92, 93, 92, 92, 92, 92, 93, 92, 92,
  92, 92, 92, 93, 92, 92, 92, 92, 93, 92,
  92, 92, 92, 92, 93, 92, 92, 92, 92, 92,
  92, 92, 93, 92, 92, 92, 92, 93, 92, 92,
  92, 93, 92, 92, 92, 92, 92, 92, 92, 92,
  92, 92, 92, 92, 92, 92, 91, 91, 90, 89,
  88, 85, 83, 80, 76, 72, 64, 54, 39, 19,
  3, 1, 1, 1, 1, 1, 1, 1, 1,
];
const P8_06 = [
  82, 96, 98, 97, 96, 96, 95, 95, 94, 94,
  93, 93, 92, 92, 92, 92, 92, 92, 92, 91,
  91, 90, 89, 88, 87, 87, 86, 85, 83, 81,
  78, 72, 65, 58, 42, 17, 2, 1, 1, 1,
  1, 1, 1, 1, 1, 1, 1, 1, 1, 1,
  1, 1, 1, 1, 1, 1, 1, 1, 1, 1,
  1, 1, 1, 1, 1, 1, 1, 1, 1, 1,
  1, 1, 1, 1, 1, 1, 1, 1, 1, 1,
  1, 1, 1, 1, 1, 1, 1, 1, 1, 1,
  1, 1, 1, 1, 1, 1, 1, 1, 1,
];
const P8_03 = [
  82, 97, 98, 97, 96, 96, 95, 95, 94, 94,
  93, 92, 91, 90, 88, 86, 82, 78, 69, 58,
  39, 12, 2, 2, 2, 1, 2, 2, 2, 2,
  2, 2, 1, 2, 2, 2, 2, 2, 1, 2,
  2, 2, 2, 2, 2, 1, 2, 2, 2, 2,
  2, 1, 2, 2, 2, 2, 2, 2, 1, 2,
  2, 2, 2, 2, 1, 2, 2, 2, 2, 2,
  2, 1, 2, 2, 2, 2, 2, 1, 2, 2,
  2, 2, 2, 2, 1, 2, 2, 2, 2, 2,
  2, 2, 1, 2, 2, 2, 2, 2, 2,
];
const P8_POS = [
  86, 93, 97, 96, 95, 94, 93, 92, 91, 90,
  89, 87, 84, 79, 72, 60, 41, 10, 1, 1,
  1, 1, 1, 1, 1, 1, 1, 1, 1, 1,
  1, 1, 1, 1, 1, 1, 1, 1, 1, 1,
  1, 1, 1, 1, 1, 1, 1, 1, 1, 1,
  1, 1, 1, 1, 1, 1, 1, 1, 1, 1,
  1, 1, 1, 1, 1, 1, 1, 1, 1, 1,
  1, 1, 1, 1, 1, 1, 1, 1, 1, 1,
  1, 1, 1, 1, 1, 1, 1, 1, 1, 1,
  1, 1, 1, 1, 1, 1, 1, 1, 1,
];
const P8_NEG = [
  86, 95, 96, 94, 92, 91, 90, 90, 90, 90,
  90, 90, 89, 90, 90, 89, 90, 90, 89, 90,
  90, 89, 90, 89, 90, 90, 89, 90, 90, 89,
  90, 90, 89, 90, 90, 90, 89, 90, 90, 90,
  90, 90, 90, 89, 90, 90, 90, 90, 90, 90,
  90, 90, 90, 90, 90, 90, 90, 90, 91, 90,
  90, 90, 90, 90, 90, 90, 90, 90, 90, 90,
  90, 90, 90, 90, 91, 91, 91, 91, 90, 91,
  91, 91, 91, 91, 90, 91, 91, 91, 91, 91,
  92, 92, 91, 92, 91, 91, 91, 91, 91,
];

// ---------- 2.3x10^5 ----------
const P9_10 = [
  92, 98, 98, 97, 96, 95, 95, 95, 94, 94,
  94, 94, 94, 94, 94, 94, 94, 94, 94, 94,
  94, 94, 94, 94, 94, 94, 94, 93, 94, 94,
  94, 94, 94, 94, 94, 94, 94, 94, 94, 94,
  94, 94, 95, 94, 94, 94, 94, 94, 94, 94,
  94, 94, 94, 94, 94, 94, 94, 95, 94, 94,
  94, 94, 94, 94, 94, 94, 94, 94, 94, 94,
  94, 94, 94, 94, 93, 94, 94, 94, 94, 94,
  94, 94, 94, 94, 94, 94, 94, 94, 94, 94,
  94, 94, 94, 94, 94, 94, 94, 94, 94,
];
const P9_5 = [
  85, 98, 98, 97, 97, 96, 96, 95, 95, 95,
  95, 95, 95, 94, 94, 94, 94, 94, 94, 94,
  94, 94, 94, 94, 94, 94, 95, 95, 95, 95,
  95, 95, 96, 96, 96, 96, 96, 96, 96, 96,
  96, 96, 96, 96, 96, 96, 96, 96, 96, 96,
  96, 96, 96, 96, 96, 97, 97, 97, 97, 97,
  97, 97, 97, 96, 97, 97, 97, 96, 97, 97,
  97, 97, 96, 97, 97, 97, 96, 97, 97, 97,
  97, 97, 97, 96, 97, 97, 97, 96, 97, 97,
  96, 97, 96, 96, 97, 96, 96, 96, 96,
];
const P9_25 = [
  94, 98, 98, 97, 95, 94, 93, 93, 92, 92,
  92, 92, 92, 92, 92, 92, 92, 92, 92, 92,
  92, 92, 92, 92, 92, 92, 92, 92, 92, 92,
  92, 92, 92, 92, 91, 92, 92, 92, 91, 92,
  92, 92, 92, 92, 91, 92, 92, 92, 92, 92,
  92, 91, 92, 92, 92, 91, 91, 91, 91, 91,
  91, 91, 90, 91, 91, 90, 91, 91, 90, 91,
  91, 91, 90, 91, 91, 90, 91, 91, 90, 91,
  91, 90, 91, 91, 90, 91, 91, 91, 91, 91,
  91, 92, 91, 92, 92, 91, 92, 92, 92,
];
const P9_125 = [
  85, 98, 98, 97, 96, 95, 94, 94, 93, 93,
  93, 93, 93, 93, 93, 93, 93, 93, 93, 93,
  93, 93, 94, 93, 93, 93, 94, 93, 93, 93,
  93, 94, 93, 93, 93, 94, 93, 93, 93, 94,
  93, 93, 93, 94, 93, 93, 93, 94, 93, 93,
  94, 93, 93, 93, 94, 93, 93, 94, 93, 93,
  93, 94, 93, 93, 94, 93, 93, 94, 93, 93,
  94, 93, 93, 94, 93, 93, 94, 93, 94, 93,
  93, 94, 93, 94, 93, 93, 94, 93, 93, 94,
  93, 94, 93, 93, 94, 93, 93, 93, 93,
];
const P9_06 = [
  83, 101, 102, 101, 101, 100, 100, 99, 98, 98,
  97, 97, 97, 97, 96, 96, 96, 96, 95, 95,
  95, 95, 94, 93, 92, 89, 85, 81, 74, 71,
  67, 63, 57, 49, 39, 22, 12, 11, 10, 5,
  3, 2, 2, 2, 1, 1, 1, 1, 1, 1,
  1, 1, 1, 1, 1, 1, 1, 1, 1, 1,
  1, 1, 1, 1, 1, 1, 1, 1, 1, 1,
  1, 1, 1, 1, 1, 1, 1, 1, 1, 1,
  1, 1, 1, 1, 1, 1, 1, 1, 1, 1,
  1, 1, 1, 1, 1, 1, 1, 1, 1,
];
const P9_03 = [
  84, 98, 98, 98, 97, 96, 96, 95, 95, 94,
  94, 94, 93, 92, 91, 89, 87, 86, 82, 77,
  71, 56, 35, 7, 1, 1, 1, 1, 1, 1,
  1, 1, 1, 1, 1, 1, 1, 1, 1, 1,
  1, 1, 1, 1, 1, 1, 1, 1, 1, 1,
  1, 1, 1, 1, 1, 1, 1, 1, 1, 1,
  1, 1, 1, 1, 1, 1, 1, 1, 1, 1,
  1, 1, 1, 1, 1, 1, 1, 1, 1, 1,
  1, 1, 1, 1, 1, 1, 1, 1, 1, 1,
  1, 1, 1, 1, 1, 1, 1, 1, 1,
];
const P9_POS = [
  86, 98, 98, 97, 95, 95, 94, 94, 93, 93,
  93, 93, 92, 89, 87, 83, 78, 69, 55, 32,
  3, 1, 1, 1, 1, 1, 1, 1, 1, 1,
  1, 1, 1, 1, 1, 1, 1, 1, 1, 1,
  1, 1, 1, 1, 1, 1, 1, 1, 1, 1,
  1, 1, 1, 1, 1, 1, 1, 1, 1, 1,
  1, 1, 1, 1, 1, 1, 1, 1, 1, 1,
  1, 1, 1, 1, 1, 1, 1, 1, 1, 1,
  1, 1, 1, 1, 1, 1, 1, 1, 1, 1,
  1, 1, 1, 1, 1, 1, 1, 1, 1,
];
const P9_NEG = [
  86, 95, 96, 94, 93, 92, 92, 91, 91, 91,
  91, 90, 91, 91, 90, 91, 91, 90, 91, 91,
  91, 90, 91, 91, 90, 91, 90, 91, 91, 90,
  91, 91, 90, 91, 91, 91, 90, 91, 91, 91,
  91, 91, 91, 91, 90, 91, 91, 91, 91, 91,
  91, 92, 91, 92, 92, 91, 92, 92, 91, 92,
  92, 92, 92, 91, 92, 92, 92, 92, 92, 92,
  92, 92, 92, 92, 92, 92, 92, 92, 93, 92,
  92, 92, 92, 93, 92, 92, 92, 93, 92, 92,
  93, 92, 93, 92, 93, 92, 93, 93, 93,
];

// ---------- 1.2x10^5 ----------
const P10_10 = [
  81, 94, 97, 96, 95, 94, 93, 93, 93, 93,
  93, 93, 93, 93, 93, 93, 93, 93, 93, 93,
  92, 92, 92, 92, 92, 92, 92, 92, 92, 92,
  92, 91, 91, 91, 91, 91, 91, 91, 91, 91,
  91, 91, 91, 91, 91, 90, 90, 90, 90, 90,
  90, 90, 90, 90, 90, 90, 90, 90, 89, 90,
  90, 89, 90, 90, 89, 90, 90, 89, 90, 90,
  89, 90, 90, 89, 90, 90, 89, 90, 90, 89,
  90, 89, 90, 90, 89, 90, 90, 89, 90, 90,
  89, 90, 90, 89, 90, 90, 89, 90, 90,
];
const P10_5 = [
  84, 97, 99, 98, 97, 96, 95, 95, 95, 94,
  94, 94, 94, 94, 94, 94, 94, 94, 94, 94,
  94, 94, 94, 94, 94, 93, 94, 94, 94, 93,
  94, 94, 93, 94, 94, 94, 93, 94, 94, 94,
  94, 94, 93, 94, 94, 94, 94, 94, 93, 94,
  94, 94, 94, 94, 94, 93, 94, 94, 94, 94,
  94, 94, 94, 94, 94, 94, 94, 94, 94, 94,
  94, 94, 94, 94, 94, 94, 94, 94, 94, 94,
  94, 94, 94, 94, 94, 94, 94, 95, 94, 94,
  94, 94, 94, 94, 93, 93, 93, 93, 92,
];
const P10_25 = [
  81, 93, 97, 96, 94, 93, 92, 92, 92, 91,
  91, 91, 91, 92, 91, 91, 91, 91, 91, 91,
  91, 91, 91, 91, 91, 91, 92, 91, 91, 91,
  91, 91, 91, 91, 91, 91, 91, 91, 91, 91,
  91, 91, 91, 91, 91, 91, 91, 91, 91, 91,
  91, 91, 91, 91, 90, 91, 91, 91, 91, 91,
  91, 91, 91, 91, 91, 91, 91, 91, 91, 91,
  91, 91, 91, 91, 91, 91, 91, 91, 91, 90,
  91, 91, 91, 91, 91, 91, 91, 91, 90, 91,
  91, 91, 91, 91, 91, 91, 91, 91, 90,
];
const P10_125 = [
  84, 97, 99, 98, 97, 96, 95, 95, 94, 94,
  94, 94, 94, 94, 94, 94, 94, 94, 94, 94,
  94, 94, 94, 94, 95, 94, 94, 94, 94, 95,
  94, 94, 94, 95, 94, 94, 95, 94, 94, 94,
  95, 94, 94, 95, 94, 94, 95, 94, 95, 94,
  94, 95, 94, 95, 95, 94, 95, 96, 95, 94,
  95, 94, 95, 95, 94, 95, 95, 94, 95, 95,
  94, 95, 95, 94, 95, 94, 95, 95, 94, 95,
  95, 94, 95, 94, 95, 95, 94, 95, 94, 95,
  94, 95, 94, 94, 94, 94, 94, 93, 93,
];
const P10_06 = [
  83, 95, 97, 96, 95, 94, 94, 93, 93, 93,
  93, 93, 93, 93, 92, 92, 92, 92, 92, 92,
  92, 92, 92, 92, 92, 92, 91, 91, 90, 90,
  89, 89, 88, 87, 86, 84, 82, 79, 76, 73,
  68, 61, 47, 28, 7, 1, 1, 1, 1, 1,
  1, 1, 1, 1, 1, 1, 1, 1, 1, 1,
  1, 1, 1, 1, 1, 1, 1, 1, 1, 1,
  1, 1, 1, 1, 1, 1, 1, 1, 1, 1,
  1, 1, 1, 1, 1, 1, 1, 1, 1, 1,
  1, 1, 1, 1, 1, 1, 1, 1, 1,
];
const P10_03 = [
  85, 100, 100, 99, 98, 97, 96, 96, 95, 95,
  95, 94, 94, 94, 94, 93, 93, 93, 92, 89,
  86, 82, 73, 62, 47, 18, 1, 1, 1, 1,
  1, 1, 1, 1, 1, 1, 1, 1, 1, 1,
  1, 1, 1, 1, 1, 1, 1, 1, 1, 1,
  1, 1, 1, 1, 1, 1, 1, 1, 1, 1,
  1, 1, 1, 1, 1, 1, 1, 1, 1, 1,
  1, 1, 1, 1, 1, 1, 1, 1, 1, 1,
  1, 1, 1, 1, 1, 1, 1, 1, 1, 1,
  1, 1, 1, 1, 1, 1, 1, 1, 1,
];
const P10_POS = [
  86, 96, 96, 95, 94, 93, 93, 92, 92, 92,
  92, 92, 91, 90, 89, 87, 83, 79, 68, 57,
  29, 1, 1, 1, 1, 1, 1, 1, 1, 1,
  1, 1, 1, 1, 1, 1, 1, 1, 1, 1,
  1, 1, 1, 1, 1, 1, 1, 1, 1, 1,
  1, 1, 1, 1, 1, 1, 1, 1, 1, 1,
  1, 1, 1, 1, 1, 1, 1, 1, 1, 1,
  1, 1, 1, 1, 1, 1, 1, 1, 1, 1,
  1, 1, 1, 1, 1, 1, 1, 1, 1, 1,
  1, 1, 1, 1, 1, 1, 1, 1, 1,
];
const P10_NEG = [
  86, 95, 97, 94, 92, 91, 91, 90, 90, 90,
  90, 90, 90, 90, 90, 91, 90, 90, 90, 90,
  91, 90, 90, 90, 90, 91, 90, 90, 90, 91,
  90, 90, 91, 90, 90, 91, 90, 90, 91, 90,
  90, 91, 90, 91, 90, 91, 90, 91, 91, 90,
  91, 91, 90, 91, 91, 90, 91, 91, 91, 91,
  92, 91, 91, 92, 91, 92, 91, 92, 92, 91,
  92, 92, 91, 92, 92, 91, 92, 92, 92, 92,
  92, 92, 92, 92, 91, 92, 92, 92, 92, 92,
  92, 92, 92, 92, 92, 92, 92, 92, 92,
];

// Panels in reading order: inoculum, legend labels, values per legend entry
const PANELS = [
  { base: "6x10", exp: "8", labels: LABELS, values: [P1_10, P1_5, P1_25, P1_125, P1_06, P1_03, P1_POS, P1_NEG] },
  { base: "3x10", exp: "8", labels: LABELS_B, values: [P2_10, P2_5, P2_25, P2_125, P2_06, P2_03, P2_POS, P2_NEG] },
  { base: "1.5x10", exp: "8", labels: LABELS, values: [P3_10, P3_5, P3_25, P3_125, P3_06, P3_03, P3_POS, P3_NEG] },
  { base: "7.5x10", exp: "7", labels: LABELS_D, values: [P4_10, P4_5, P4_25, P4_125, P4_06, P4_03, P4_POS, P4_NEG] },
  { base: "3.8x10", exp: "8", labels: LABELS, values: [P5_10, P5_5, P5_25, P5_125, P5_06, P5_03, P5_POS, P5_NEG] },
  { base: "1.9x10", exp: "5", labels: LABELS, values: [P6_10, P6_5, P6_25, P6_125, P6_06, P6_03, P6_POS, P6_NEG] },
  { base: "9.4x10", exp: "5", labels: LABELS, values: [P7_10, P7_5, P7_25, P7_125, P7_06, P7_03, P7_POS, P7_NEG] },
  { base: "4.7x10", exp: "5", labels: LABELS, values: [P8_10, P8_5, P8_25, P8_125, P8_06, P8_03, P8_POS, P8_NEG] },
  { base: "2.3x10", exp: "5", labels: LABELS, values: [P9_10, P9_5, P9_25, P9_125, P9_06, P9_03, P9_POS, P9_NEG] },
  { base: "1.2x10", exp: "5", labels: LABELS, values: [P10_10, P10_5, P10_25, P10_125, P10_06, P10_03, P10_POS, P10_NEG] },
];

// ---------- layout & styling ----------
const DOWN_TRIANGLE = "path://M0,0L10,0L5,9Z";
const MARKERS = [
  { color: "#000000", symbol: "circle", size: 7 },
  { color: "#ff0000", symbol: "circle", size: 7 },
  { color: "#00ff00", symbol: DOWN_TRIANGLE, size: 8 },
  { color: "#ffff00", symbol: "triangle", size: 8 },
  { color: "#0000ff", symbol: "rect", size: 6.5 },
  { color: "#ff00ff", symbol: "rect", size: 6.5 },
  { color: "#00ffff", symbol: "diamond", size: 8 },
  { color: "#c0c0c0", symbol: "diamond", size: 9 },
];

const LAYOUT = [
  { grid: [72, 13, 436, 240], title: [91, 36, 28.5], leg: [332, 97, 27, 11.8, 10.5, 5.7, 9], yName: [20, 133] },
  { grid: [565, 9, 435, 245], title: [604, 30.7, 22], leg: [855, 87, 27, 12, 10.5, 5.7, 8.3] },
  { grid: [73, 288, 442, 244], title: [92, 311.3, 302], leg: [393, 358, 25, 10, 8.8, 6, 8.4], yName: [20, 410] },
  { grid: [567, 295, 428, 232], title: [603, 322.5, 314], leg: [834, 385, 27, 11.3, 10.5, 5.6, 9], circleBlue: true },
  { grid: [77, 567, 441, 255], title: [124, 590.8, 583], leg: [312, 668, 28.5, 12.5, 10.6, 6.2, 8.4], yName: [23, 695] },
  { grid: [567, 575, 428, 244], title: [618, 599.7, 591], leg: [801, 662, 27.5, 12, 10.6, 5.7, 9] },
  { grid: [73, 860, 442, 238], title: [90, 881.2, 872], leg: [342, 943, 29, 11.6, 10.8, 5.2, 8.3], yName: [20, 979] },
  { grid: [568, 854, 433, 243], title: [587, 879.7, 870], leg: [737, 953, 28.5, 11.8, 10.5, 6, 8] },
  { grid: [71, 1143, 444, 227], title: [99, 1165.5, 1157], leg: [326, 1237, 29, 11, 10.8, 6.2, 8.6], yName: [18.5, 1257], xName: [293, 1401] },
  { grid: [562, 1135, 433, 234], title: [612, 1154.5, 1146], leg: [791, 1227, 28.3, 11.3, 10.7, 6, 8.4], xName: [779, 1401] },
];

const SANS = "DejaVu Sans";
const SERIF = "Liberation Serif";
const FRAME = "#4d4d4d";
const TITLE_SIZE = 31;
const SUP_SIZE = 18;

let measureCtx: CanvasRenderingContext2D | null = null;
function textWidth(text: string, font: string): number {
  if (!measureCtx) measureCtx = document.createElement("canvas").getContext("2d");
  if (!measureCtx) return text.length * 15;
  measureCtx.font = font;
  return measureCtx.measureText(text).width;
}

function buildOption() {
  const grid: any[] = [];
  const xAxis: any[] = [];
  const yAxis: any[] = [];
  const series: any[] = [];
  const legend: any[] = [];
  const elements: any[] = [];

  PANELS.forEach((panel, i) => {
    const L: any = LAYOUT[i];
    grid.push({
      left: L.grid[0], top: L.grid[1], width: L.grid[2], height: L.grid[3],
      show: true, borderColor: FRAME, borderWidth: 1, backgroundColor: "transparent",
    });
    xAxis.push({
      type: "value", gridIndex: i, min: X_TICKS.min, max: X_TICKS.max, interval: X_TICKS.step,
      axisLine: { show: true, onZero: false, lineStyle: { color: FRAME, width: 1 } },
      axisTick: { show: false },
      splitLine: { show: false },
      axisLabel: {
        color: "#262626", fontSize: 10, fontFamily: SANS, margin: 7,
        showMaxLabel: true, showMinLabel: true,
        formatter: (v: number) => String(v),
      },
    });
    yAxis.push({
      type: "value", gridIndex: i, min: Y_TICKS.min, max: Y_TICKS.max, interval: Y_TICKS.step,
      axisLine: { show: true, onZero: false, lineStyle: { color: FRAME, width: 1 } },
      axisTick: { show: true, inside: false, length: 4, lineStyle: { color: FRAME } },
      splitLine: { show: false },
      axisLabel: { color: "#262626", fontSize: 10, fontFamily: SANS, margin: 8, formatter: (v: number) => String(v) },
    });

    panel.values.forEach((vals, k) => {
      const m = MARKERS[k];
      const symbol = k === 4 && L.circleBlue ? "circle" : m.symbol;
      const size = k === 4 && L.circleBlue ? 7 : m.size;
      series.push({
        type: "line",
        name: panel.labels[k],
        xAxisIndex: i,
        yAxisIndex: i,
        data: TIME.map((t, j) => [t, vals[j]]),
        symbol,
        symbolSize: size,
        showSymbol: true,
        showAllSymbol: true,
        itemStyle: { color: m.color, borderWidth: 0 },
        lineStyle: { color: "#000000", width: 0.8 },
        silent: true,
        emphasis: { disabled: true },
        animation: false,
      });
    });

    const [lx, ly, lw, step, fs, pt, pl] = L.leg;
    legend.push({
      show: true,
      orient: "vertical",
      left: lx,
      top: ly,
      itemWidth: lw,
      itemHeight: Math.min(10, step),
      itemGap: 0,
      padding: [pt, 12, 5, pl],
      borderColor: "#333333",
      borderWidth: 1.3,
      backgroundColor: "#ffffff",
      selectedMode: false,
      textStyle: { color: "#000000", fontSize: fs, fontFamily: SANS, lineHeight: step },
      data: panel.labels,
    });

    const [tx, ty, sy] = L.title;
    const mainWidth = textWidth(panel.base, `${TITLE_SIZE}px "${SERIF}"`);
    elements.push({
      type: "text", x: tx, y: ty, silent: true,
      style: { text: panel.base, fontSize: TITLE_SIZE, fontFamily: SERIF, fill: "#000000", align: "left", verticalAlign: "middle" },
    });
    elements.push({
      type: "text", x: tx + mainWidth + 1.5, y: sy, silent: true,
      style: { text: panel.exp, fontSize: SUP_SIZE, fontFamily: SERIF, fill: "#000000", align: "left", verticalAlign: "middle" },
    });

    if (L.yName) {
      elements.push({
        type: "text", x: L.yName[0], y: L.yName[1], rotation: Math.PI / 2, silent: true,
        style: {
          text: "{a|pO}{b|2}{a| %}",
          align: "center", verticalAlign: "middle",
          rich: {
            a: { fontSize: 11, fontFamily: SANS, fill: "#262626", lineHeight: 14, verticalAlign: "bottom" },
            b: { fontSize: 7.5, fontFamily: SANS, fill: "#262626", lineHeight: 9, verticalAlign: "bottom", padding: [0, 0, -3, 0] },
          },
        },
      });
    }
    if (L.xName) {
      elements.push({
        type: "text", x: L.xName[0], y: L.xName[1], silent: true,
        style: { text: "Time (min.)", fontSize: 12, fontFamily: SANS, fill: "#262626", align: "center", verticalAlign: "middle" },
      });
    }
  });

  return {
    animation: false,
    backgroundColor: "#ffffff",
    textStyle: { fontFamily: SANS },
    grid,
    xAxis,
    yAxis,
    legend,
    series,
    graphic: { elements },
  };
}

export default function App() {
  const ref = useRef<HTMLDivElement>(null);
  useEffect(() => {
    if (!ref.current) return;
    const chart = echarts.init(ref.current, null, { renderer: "svg" });
    chart.setOption(buildOption());
    return () => chart.dispose();
  }, []);
  return (
    <div
      ref={ref}
      style={{ position: "absolute", left: 0, top: 0, width: 1016, height: 1416, background: "#ffffff" }}
    />
  );
}
